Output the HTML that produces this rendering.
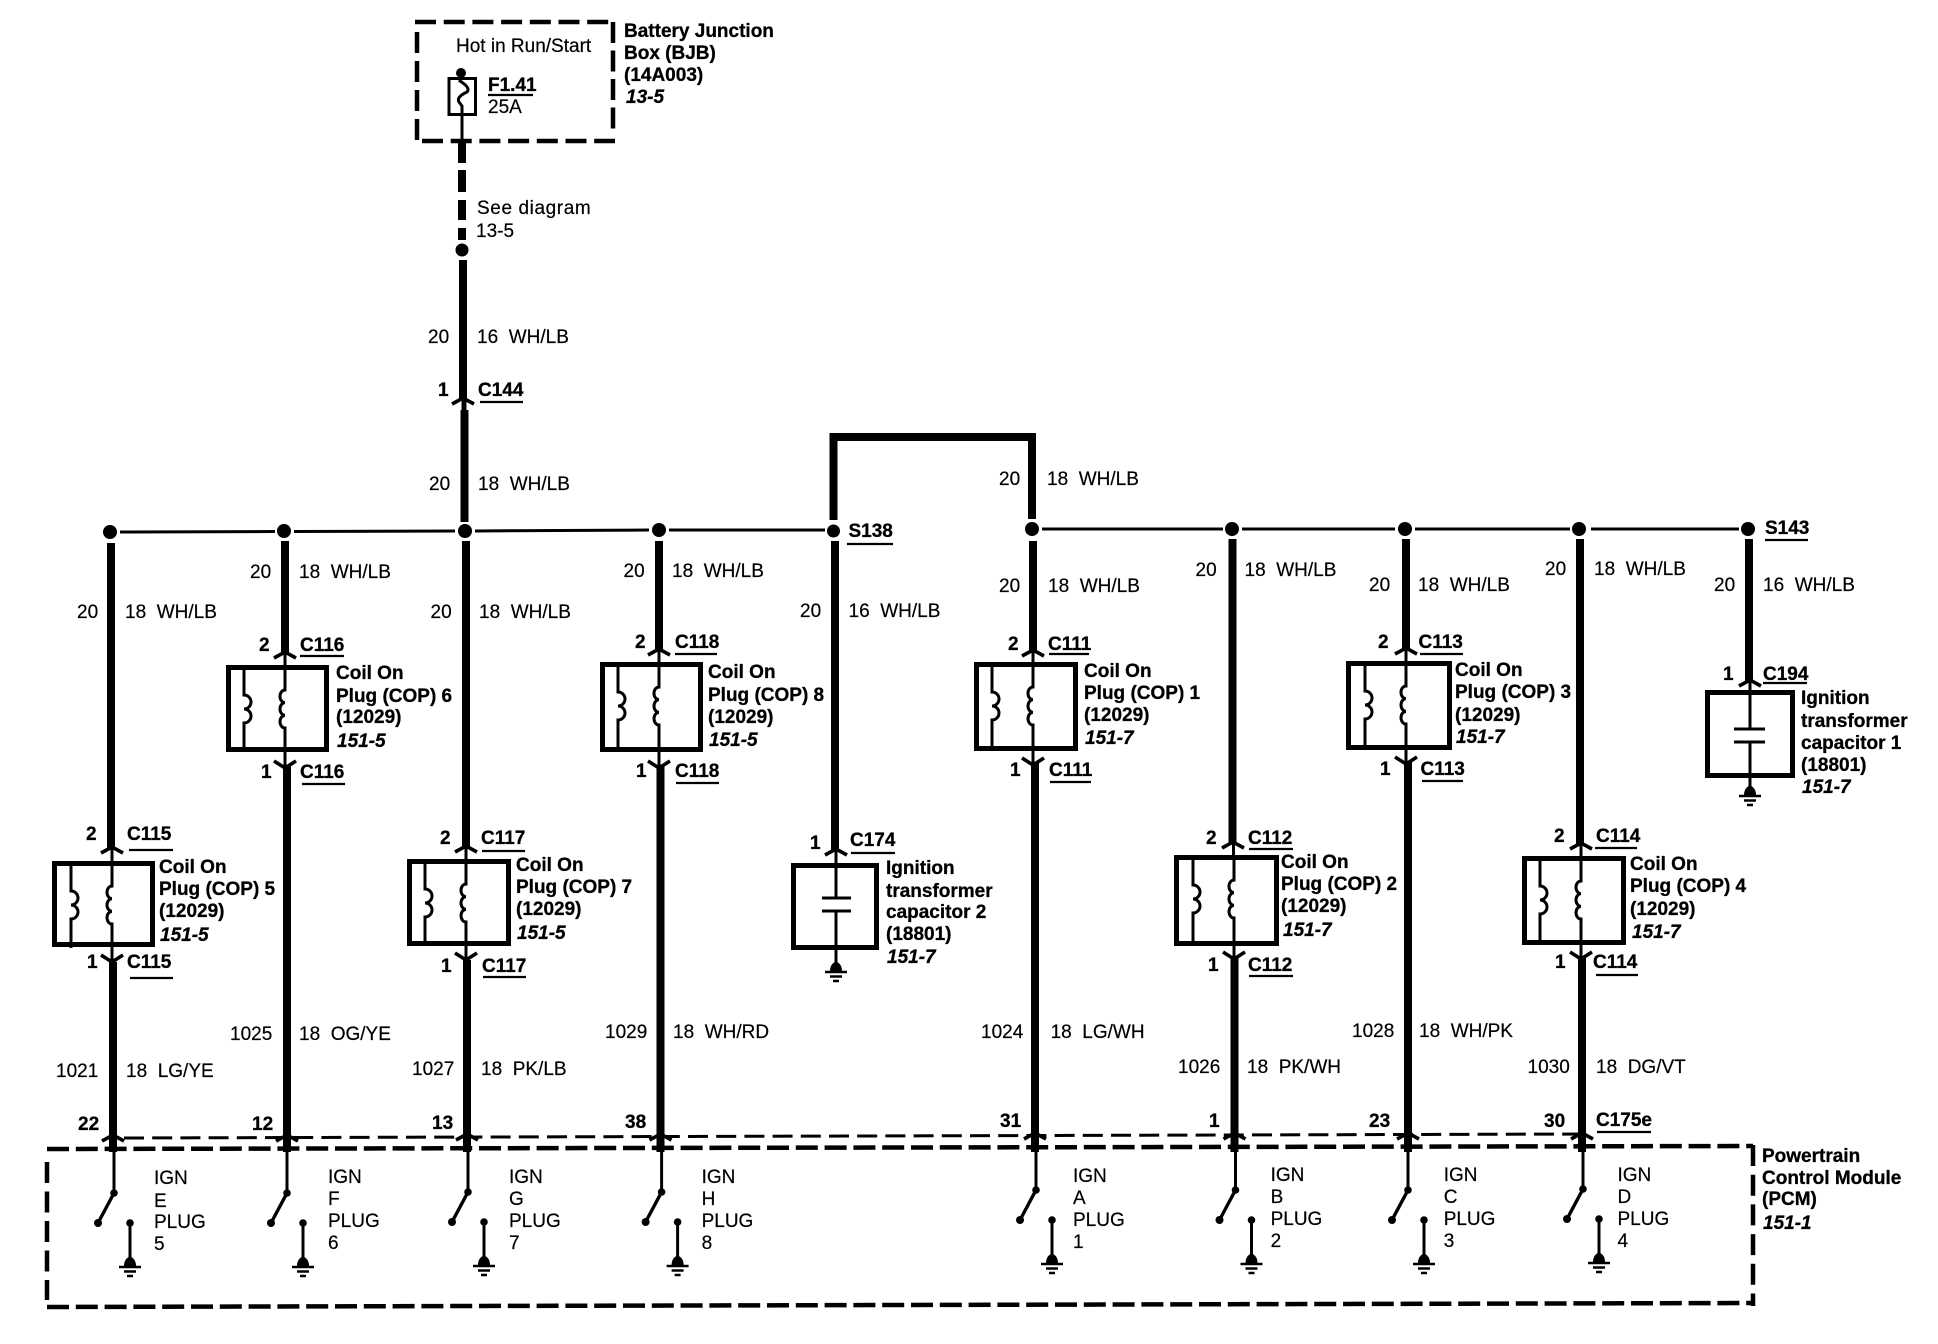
<!DOCTYPE html>
<html lang="en">
<head>
<meta charset="utf-8">
<title>Ignition wiring diagram</title>
<style>
html,body{margin:0;padding:0;background:#fff}
svg{display:block}
text{font-family:"Liberation Sans",sans-serif;font-size:19px;fill:#000;white-space:pre;stroke:#000;stroke-width:.2px}
.b{font-weight:bold;stroke:#000;stroke-width:.3px}
.i{font-weight:bold;font-style:italic;stroke:#000;stroke-width:.3px}
.w{stroke:#000;stroke-width:8;fill:none}
.t{stroke:#000;stroke-width:3;fill:none}
.h{stroke:#000;stroke-width:3;fill:none}
.u{stroke:#000;stroke-width:2.2;fill:none}
.x{stroke:#000;stroke-width:5;fill:#fff}
.d{stroke:#000;stroke-width:4.5;fill:none}
</style>
</head>
<body>
<svg xmlns="http://www.w3.org/2000/svg" width="1938" height="1344" viewBox="0 0 1938 1344">
<defs>
<g id="coil" fill="none" stroke="#000" stroke-width="3">
<path d="M0,0V25a5,6.33 0 0 0 0,12.67a5,6.33 0 0 0 0,12.67a5,6.33 0 0 0 0,12.67V87"/>
<path d="M-41,0V30a7,7 0 0 1 0,14a7,7 0 0 1 0,14V87"/>
</g>
<g id="gnd">
<path d="M-6,0C-6,-6 -3,-8 0,-10C3,-8 6,-6 6,0Z" fill="#000"/>
<path d="M-11,1H11M-6,5.5H6M-3,10H3" stroke="#000" stroke-width="2.6" fill="none"/>
</g>
<g id="sw">
<circle r="3.8" fill="#000"/>
<path d="M0,0L-16,30" stroke="#000" stroke-width="3.4"/>
<circle cx="-16" cy="30" r="4" fill="#000"/>
<circle cx="16" cy="30" r="3.8" fill="#000"/>
<path d="M16,30V66" stroke="#000" stroke-width="3"/>
<use href="#gnd" x="16" y="73"/>
</g>
<path id="up" d="M-11,6L0,0L11,6" fill="none" stroke="#000" stroke-width="3.6"/>
<path id="dn" d="M-11,0L0,7L11,0" fill="none" stroke="#000" stroke-width="3.6"/>
</defs>

<!-- BJB -->
<path class="d" stroke-width="5" stroke-dasharray="21 7.7" d="M415,22H611"/>
<path class="d" stroke-dasharray="21 7.7" d="M422,141H615"/>
<path class="d" stroke-dasharray="21 8" d="M417,32V141"/>
<path class="d" stroke-dasharray="21 7.5" d="M613,22V132"/>
<text x="456" y="52">Hot in Run/Start</text>
<rect x="449" y="78.5" width="26.5" height="36" fill="none" stroke="#000" stroke-width="3"/>
<circle cx="461" cy="73" r="5" fill="#000"/>
<path class="t" d="M461,77L460,81Q471,88 467,92Q456,97 459,102L462,106V142"/>
<text class="b" x="488" y="91">F1.41</text>
<path class="u" d="M488,95H533"/>
<text x="488" y="113">25A</text>
<text class="b" x="624" y="37">Battery Junction</text>
<text class="b" x="624" y="59">Box (BJB)</text>
<text class="b" x="624" y="81">(14A003)</text>
<text class="i" x="626" y="103">13-5</text>

<!-- feed -->
<path class="w" stroke-dasharray="20 7 22 8 20 8 12 100" d="M462,143V260"/>
<circle cx="462" cy="250" r="6.5" fill="#000"/>
<path class="w" d="M463,260V398"/>
<use href="#up" x="463" y="398"/>
<path d="M464,398V412" stroke="#000" stroke-width="5" fill="none"/>
<path class="w" d="M464.5,410V522"/>
<text x="477" y="214" style="letter-spacing:.6px">See diagram</text>
<text x="476" y="237">13-5</text>
<text x="428" y="343">20</text><text x="477" y="343">16  WH/LB</text>
<text class="b" x="438" y="396">1</text><text class="b" x="478" y="396">C144</text>
<path class="u" d="M480,402H523"/>
<text x="429" y="490">20</text><text x="478" y="490">18  WH/LB</text>

<!-- bus -->
<path class="h" d="M120,532L275,531.5M294,531.5L455,531M475,531L649,530M669,530L825,530"/>
<path class="h" d="M1042,529H1223M1242,529H1395M1415,529H1570M1591,529H1739"/>
<g fill="#000">
<circle cx="110" cy="532" r="7"/><circle cx="284" cy="531" r="7"/><circle cx="465" cy="531" r="7"/>
<circle cx="659" cy="530" r="7"/><circle cx="833.5" cy="531" r="6.5"/><circle cx="1032" cy="529" r="7"/>
<circle cx="1232" cy="529" r="7"/><circle cx="1405" cy="529" r="7"/><circle cx="1579" cy="529" r="7"/><circle cx="1748" cy="529" r="7"/>
</g>

<!-- jumper -->
<path class="w" d="M833.5,520V437H1032V519"/>
<text class="b" x="848.5" y="537">S138</text><path class="u" d="M847,544H893"/>
<text class="b" x="1765" y="534">S143</text><path class="u" d="M1765,540H1808"/>
<text x="999" y="485">20</text><text x="1047" y="485">18  WH/LB</text>

<!-- thick wires -->
<path class="w" d="M111,543V849M113,962V1152"/>
<path class="w" d="M285,541V654M287,766V1152"/>
<path class="w" d="M466,541V849M467,960V1152"/>
<path class="w" d="M659,541V651M660.5,766V1152"/>
<path class="w" d="M835,541V851"/>
<path class="w" d="M1033,541V652M1035,763V1152"/>
<path class="w" d="M1232.5,539V844M1234.5,957V1152"/>
<path class="w" d="M1406,539V650M1408,762V1152"/>
<path class="w" d="M1580,539V845M1582,957V1152"/>
<path class="w" d="M1749,539V682"/>

<!-- upper wire labels -->
<text x="77" y="618">20</text><text x="125" y="618">18  WH/LB</text>
<text x="250" y="578">20</text><text x="299" y="578">18  WH/LB</text>
<text x="430.5" y="618">20</text><text x="479" y="618">18  WH/LB</text>
<text x="623.5" y="577">20</text><text x="672" y="577">18  WH/LB</text>
<text x="800" y="617">20</text><text x="848.5" y="617">16  WH/LB</text>
<text x="999" y="592">20</text><text x="1048" y="592">18  WH/LB</text>
<text x="1195.5" y="576">20</text><text x="1244.5" y="576">18  WH/LB</text>
<text x="1369" y="591">20</text><text x="1418" y="591">18  WH/LB</text>
<text x="1545" y="575">20</text><text x="1594" y="575">18  WH/LB</text>
<text x="1714" y="591">20</text><text x="1763" y="591">16  WH/LB</text>

<!-- Coil 5 -->
<rect class="x" x="54.5" y="863.5" width="98" height="81"/>
<use href="#coil" x="112" y="861"/>
<use href="#up" x="112" y="847"/><path class="t" d="M112,847V861M112,947V962"/><use href="#dn" x="112" y="955"/>
<text class="b" x="86" y="840">2</text><text class="b" x="127" y="840">C115</text><path class="u" d="M129,850H173"/>
<text class="b" x="159" y="873">Coil On</text><text class="b" x="159" y="895">Plug (COP) 5</text><text class="b" x="159" y="917">(12029)</text><text class="i" x="160" y="941">151-5</text>
<text class="b" x="87" y="968">1</text><text class="b" x="127" y="968">C115</text><path class="u" d="M130,978H173"/>

<!-- Coil 6 -->
<rect class="x" x="228.5" y="667.5" width="98" height="82"/>
<use href="#coil" x="285" y="665"/>
<use href="#up" x="285" y="652"/><path class="t" d="M285,652V665M285,752V768"/><use href="#dn" x="285" y="761"/>
<text class="b" x="259" y="651">2</text><text class="b" x="300" y="651">C116</text><path class="u" d="M300,656H344"/>
<text class="b" x="336" y="679">Coil On</text><text class="b" x="336" y="702">Plug (COP) 6</text><text class="b" x="336" y="723">(12029)</text><text class="i" x="337" y="747">151-5</text>
<text class="b" x="261" y="778">1</text><text class="b" x="300" y="778">C116</text><path class="u" d="M302,784H345"/>

<!-- Coil 7 -->
<rect class="x" x="409.5" y="861.5" width="99" height="82"/>
<use href="#coil" x="466" y="859"/>
<use href="#up" x="466" y="846"/><path class="t" d="M466,846V859M466,946V960"/><use href="#dn" x="466" y="953"/>
<text class="b" x="440" y="844">2</text><text class="b" x="481" y="844">C117</text><path class="u" d="M482,851H525"/>
<text class="b" x="516" y="871">Coil On</text><text class="b" x="516" y="893">Plug (COP) 7</text><text class="b" x="516" y="915">(12029)</text><text class="i" x="517" y="939">151-5</text>
<text class="b" x="441" y="972">1</text><text class="b" x="482" y="972">C117</text><path class="u" d="M483,977H526"/>

<!-- Coil 8 -->
<rect class="x" x="602.5" y="664.5" width="98" height="85"/>
<use href="#coil" x="659" y="662"/>
<use href="#up" x="659" y="649"/><path class="t" d="M659,649V662M659,752V768"/><use href="#dn" x="659" y="761"/>
<text class="b" x="635" y="648">2</text><text class="b" x="675" y="648">C118</text><path class="u" d="M675,654H717"/>
<text class="b" x="708" y="678">Coil On</text><text class="b" x="708" y="701">Plug (COP) 8</text><text class="b" x="708" y="723">(12029)</text><text class="i" x="709" y="746">151-5</text>
<text class="b" x="636" y="777">1</text><text class="b" x="675" y="777">C118</text><path class="u" d="M676,783H719"/>

<!-- Cap 2 -->
<rect class="x" x="793.5" y="865.5" width="83" height="82"/>
<path class="t" d="M836,849V898M836,911V962"/>
<path d="M822,898H851M822,911H851" stroke="#000" stroke-width="3" fill="none"/>
<use href="#up" x="836" y="849"/>
<use href="#gnd" x="836" y="971"/>
<text class="b" x="810" y="849">1</text><text class="b" x="850" y="846">C174</text><path class="u" d="M851,853H895"/>
<text class="b" x="886" y="874">Ignition</text><text class="b" x="886" y="897">transformer</text><text class="b" x="886" y="918">capacitor 2</text><text class="b" x="886" y="940">(18801)</text><text class="i" x="887" y="963">151-7</text>

<!-- Coil 1 -->
<rect class="x" x="976.5" y="664.5" width="99" height="84"/>
<use href="#coil" x="1033" y="662"/>
<use href="#up" x="1033" y="650"/><path class="t" d="M1033,650V662M1033,751V765"/><use href="#dn" x="1033" y="758"/>
<text class="b" x="1008" y="650">2</text><text class="b" x="1048" y="650">C111</text><path class="u" d="M1049,654H1089"/>
<text class="b" x="1084" y="677">Coil On</text><text class="b" x="1084" y="699">Plug (COP) 1</text><text class="b" x="1084" y="721">(12029)</text><text class="i" x="1085" y="744">151-7</text>
<text class="b" x="1010" y="776">1</text><text class="b" x="1049" y="776">C111</text><path class="u" d="M1050,782H1091"/>

<!-- Coil 2 -->
<rect class="x" x="1176.5" y="857.5" width="100" height="86"/>
<use href="#coil" x="1234" y="855"/>
<use href="#up" x="1233" y="842"/><path class="t" d="M1233.5,842V855M1234,946V959"/><use href="#dn" x="1234" y="952"/>
<text class="b" x="1206" y="844">2</text><text class="b" x="1248" y="844">C112</text><path class="u" d="M1249,849H1293"/>
<text class="b" x="1281" y="868">Coil On</text><text class="b" x="1281" y="890">Plug (COP) 2</text><text class="b" x="1281" y="912">(12029)</text><text class="i" x="1283" y="936">151-7</text>
<text class="b" x="1208" y="971">1</text><text class="b" x="1248" y="971">C112</text><path class="u" d="M1249,976H1293"/>

<!-- Coil 3 -->
<rect class="x" x="1348.5" y="663.5" width="101" height="84"/>
<use href="#coil" x="1406" y="661"/>
<use href="#up" x="1406" y="648"/><path class="t" d="M1406,648V661M1406,750V764"/><use href="#dn" x="1406" y="757"/>
<text class="b" x="1378" y="648">2</text><text class="b" x="1418.5" y="648">C113</text><path class="u" d="M1420,654H1463"/>
<text class="b" x="1455" y="676">Coil On</text><text class="b" x="1455" y="698">Plug (COP) 3</text><text class="b" x="1455" y="721">(12029)</text><text class="i" x="1456" y="743">151-7</text>
<text class="b" x="1380" y="775">1</text><text class="b" x="1420.5" y="775">C113</text><path class="u" d="M1422,781H1463"/>

<!-- Coil 4 -->
<rect class="x" x="1524.5" y="858.5" width="99" height="84"/>
<use href="#coil" x="1581" y="856"/>
<use href="#up" x="1581" y="843"/><path class="t" d="M1581,843V856M1581,945V959"/><use href="#dn" x="1581" y="952"/>
<text class="b" x="1554" y="842">2</text><text class="b" x="1596" y="842">C114</text><path class="u" d="M1595,848H1637"/>
<text class="b" x="1630" y="870">Coil On</text><text class="b" x="1630" y="892">Plug (COP) 4</text><text class="b" x="1630" y="915">(12029)</text><text class="i" x="1632" y="938">151-7</text>
<text class="b" x="1555" y="968">1</text><text class="b" x="1593" y="968">C114</text><path class="u" d="M1596,975H1638"/>

<!-- Cap 1 -->
<rect class="x" x="1707.5" y="692.5" width="85" height="83"/>
<path class="t" d="M1750,680V729M1750,742V787"/>
<path d="M1734,729H1765M1734,742H1765" stroke="#000" stroke-width="3" fill="none"/>
<use href="#up" x="1750" y="680"/>
<use href="#gnd" x="1750" y="795"/>
<text class="b" x="1723" y="680">1</text><text class="b" x="1763" y="680">C194</text><path class="u" d="M1763,683H1807"/>
<text class="b" x="1801" y="704">Ignition</text><text class="b" x="1801" y="727">transformer</text><text class="b" x="1801" y="749">capacitor 1</text><text class="b" x="1801" y="771">(18801)</text><text class="i" x="1802" y="793">151-7</text>

<!-- lower wire labels -->
<text x="56" y="1077">1021</text><text x="126" y="1077">18  LG/YE</text>
<text x="230" y="1040">1025</text><text x="299" y="1040">18  OG/YE</text>
<text x="412" y="1075">1027</text><text x="481" y="1075">18  PK/LB</text>
<text x="605" y="1038">1029</text><text x="673" y="1038">18  WH/RD</text>
<text x="981" y="1038">1024</text><text x="1050.6" y="1038">18  LG/WH</text>
<text x="1178" y="1073">1026</text><text x="1247" y="1073">18  PK/WH</text>
<text x="1352" y="1037">1028</text><text x="1419" y="1037">18  WH/PK</text>
<text x="1527.5" y="1073">1030</text><text x="1596" y="1073">18  DG/VT</text>

<!-- pins -->
<text class="b" x="78" y="1130">22</text>
<text class="b" x="252" y="1130">12</text>
<text class="b" x="432" y="1129">13</text>
<text class="b" x="625" y="1128">38</text>
<text class="b" x="1000" y="1127">31</text>
<text class="b" x="1209" y="1127">1</text>
<text class="b" x="1369" y="1127">23</text>
<text class="b" x="1544" y="1127">30</text>
<text class="b" x="1596" y="1126">C175e</text><path class="u" d="M1597,1132H1651"/>

<path d="M124,1138L1590,1134" stroke="#000" stroke-width="3" fill="none" stroke-dasharray="20 8.2"/>
<use href="#up" x="113" y="1135"/><use href="#up" x="287" y="1135"/><use href="#up" x="467" y="1134"/><use href="#up" x="660.5" y="1134"/>
<use href="#up" x="1035" y="1133"/><use href="#up" x="1234.5" y="1133"/><use href="#up" x="1408" y="1133"/><use href="#up" x="1582" y="1133"/>

<!-- PCM -->
<path class="d" stroke-dasharray="22 6.8" d="M47,1149L1753,1146"/>
<path class="d" stroke-dasharray="21 8.5" d="M47,1162V1300"/>
<path class="d" stroke-dasharray="22 6.8" d="M47,1307L1755,1303"/>
<path class="d" stroke-dasharray="21 8.7" d="M1753,1145V1306"/>

<path class="t" d="M114,1149V1193M287,1149V1193M468,1149V1192M661.6,1149V1192M1036,1149V1190M1235.5,1149V1190M1408,1149V1190M1583,1149V1189"/>
<use href="#sw" x="114" y="1193"/>
<use href="#sw" x="287" y="1193"/>
<use href="#sw" x="468" y="1192"/>
<use href="#sw" x="661.6" y="1192"/>
<use href="#sw" x="1036" y="1190"/>
<use href="#sw" x="1235.5" y="1190"/>
<use href="#sw" x="1408" y="1190"/>
<use href="#sw" x="1583" y="1189"/>

<text x="154" y="1184">IGN</text><text x="154" y="1207">E</text><text x="154" y="1228">PLUG</text><text x="154" y="1250">5</text>
<text x="328" y="1183">IGN</text><text x="328" y="1205">F</text><text x="328" y="1227">PLUG</text><text x="328" y="1249">6</text>
<text x="509" y="1183">IGN</text><text x="509" y="1205">G</text><text x="509" y="1227">PLUG</text><text x="509" y="1249">7</text>
<text x="701.6" y="1183">IGN</text><text x="701.6" y="1205">H</text><text x="701.6" y="1227">PLUG</text><text x="701.6" y="1249">8</text>
<text x="1073" y="1182">IGN</text><text x="1073" y="1204">A</text><text x="1073" y="1226">PLUG</text><text x="1073" y="1248">1</text>
<text x="1270.6" y="1181">IGN</text><text x="1270.6" y="1203">B</text><text x="1270.6" y="1225">PLUG</text><text x="1270.6" y="1247">2</text>
<text x="1443.7" y="1181">IGN</text><text x="1443.7" y="1203">C</text><text x="1443.7" y="1225">PLUG</text><text x="1443.7" y="1247">3</text>
<text x="1617.5" y="1181">IGN</text><text x="1617.5" y="1203">D</text><text x="1617.5" y="1225">PLUG</text><text x="1617.5" y="1247">4</text>

<text class="b" x="1762" y="1162">Powertrain</text>
<text class="b" x="1762" y="1184">Control Module</text>
<text class="b" x="1762" y="1205">(PCM)</text>
<text class="i" x="1763" y="1229">151-1</text>
</svg>
</body>
</html>
